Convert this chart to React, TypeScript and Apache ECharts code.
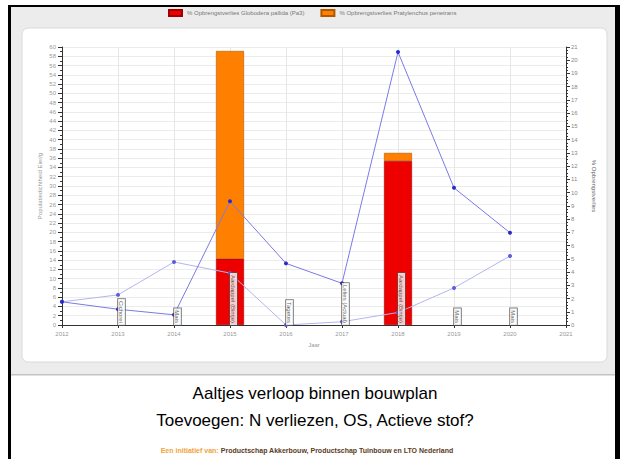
import React, { useEffect, useRef } from "react";
import * as echarts from "echarts";

const axisYears = ["2012", "2013", "2014", "2015", "2016", "2017", "2018", "2019", "2020", "2021"];
const densityDark = [5.0, 3.4, 2.2, 26.7, 13.3, 9.0, 58.9, 29.6, 19.9];
const densityLight = [5.0, 6.5, 13.6, 11.2, 0, 0.7, 2.7, 8.0, 14.9];
const barYears = ["2015", "2018"];
const lossGlobodera = [5.0, 12.4];
const lossPratylenchus = [15.7, 0.6];
const cropYears = ["2013", "2014", "2015", "2016", "2017", "2018", "2019", "2020"];
const crops = [
  "Cichorei",
  "Mais",
  "Aardappel (Bintje)",
  "Tagetes",
  "Lelies (Actual)",
  "Aardappel (Bintje)",
  "Mais",
  "Mais",
];
const legendNames = [
  "% Opbrengstverlies Globodera pallida (Pa3)",
  "% Opbrengstverlies Pratylenchus penetrans",
];
const titleLine1 = "Aaltjes verloop binnen bouwplan";
const titleLine2 = "Toevoegen: N verliezen, OS, Actieve stof?";
const footerLead = "Een initiatief van: ";
const footerRest = "Productschap Akkerbouw, Productschap Tuinbouw en LTO Nederland";

const FONT = "Liberation Sans, Arial, sans-serif";

export default function App() {
  const ref = useRef<HTMLDivElement>(null);
  useEffect(() => {
    if (!ref.current) return;
    const chart = echarts.init(ref.current, undefined, { renderer: "svg" });
    const axisLabel = { fontSize: 6, color: "#999", fontFamily: FONT };
    const byYear = (vals: number[], ys: string[]) =>
      axisYears.map((y) => {
        const i = ys.indexOf(y);
        return i >= 0 ? vals[i] : "-";
      });
    chart.setOption({
      animation: false,
      backgroundColor: "#ffffff",
      textStyle: { fontFamily: FONT },
      graphic: [
        { type: "rect", z: -100, silent: true, shape: { x: 9, y: 6, width: 608, height: 369 }, style: { fill: "#ececec" } },
        { type: "rect", z: -99, silent: true, shape: { x: 9, y: 374, width: 608, height: 1.5 }, style: { fill: "#c4c4c4" } },
        { type: "rect", z: -98, silent: true, shape: { x: 22, y: 28, width: 585, height: 334, r: 6 }, style: { fill: "#ffffff", stroke: "#dadada", lineWidth: 1 } },
        { type: "rect", z: 50, silent: true, shape: { x: 8, y: 5, width: 3, height: 454 }, style: { fill: "#000" } },
        { type: "rect", z: 50, silent: true, shape: { x: 615, y: 5, width: 5, height: 454 }, style: { fill: "#000" } },
        { type: "rect", z: 50, silent: true, shape: { x: 8, y: 5, width: 612, height: 2 }, style: { fill: "#000" } },
        { type: "text", z: 50, x: 315, y: 393, style: { text: titleLine1, fontSize: 17, fontFamily: FONT, fill: "#000", align: "center", verticalAlign: "middle" } },
        { type: "text", z: 50, x: 315, y: 420, style: { text: titleLine2, fontSize: 17, fontFamily: FONT, fill: "#000", align: "center", verticalAlign: "middle" } },
        {
          type: "text", z: 50, x: 307, y: 450,
          style: {
            text: "{a|" + footerLead + "}{b|" + footerRest + "}",
            align: "center", verticalAlign: "middle",
            rich: {
              a: { fontSize: 7, fontWeight: "bold", fontFamily: FONT, fill: "#f2a23a" },
              b: { fontSize: 7, fontWeight: "bold", fontFamily: FONT, fill: "#5a3b1c" },
            },
          },
        },
      ],
      legend: {
        data: legendNames,
        left: 163,
        top: 4,
        itemWidth: 13,
        itemHeight: 6,
        itemGap: 16,
        textStyle: { fontSize: 6, color: "#777", fontFamily: FONT },
        icon: "rect",
        z: 60,
      },
      grid: { left: 62, right: 54, top: 47, bottom: 134 },
      xAxis: {
        type: "category",
        data: axisYears,
        boundaryGap: false,
        name: "Jaar",
        nameLocation: "middle",
        nameGap: 17,
        nameMoveOverlap: false,
        nameTextStyle: { fontSize: 6, color: "#999", fontFamily: FONT },
        axisLine: { show: true, lineStyle: { color: "#333", width: 1 } },
        axisTick: { show: true, length: 3, alignWithLabel: true, lineStyle: { color: "#333" } },
        axisLabel: { ...axisLabel, margin: 6, interval: 0 },
        splitLine: { show: true, interval: 0, lineStyle: { color: "#e6e6e6", width: 1 } },
      },
      yAxis: [
        {
          type: "value",
          min: 0,
          max: 60,
          interval: 2,
          name: "Populatiedichtheid Eier/g",
          nameLocation: "middle",
          nameGap: 19,
          nameMoveOverlap: false,
          nameTextStyle: { fontSize: 6, color: "#999", fontFamily: FONT },
          axisLine: { show: true, lineStyle: { color: "#333", width: 1 } },
          axisTick: { show: true, length: 4, lineStyle: { color: "#333" } },
          minorTick: { show: true, splitNumber: 2, length: 2, lineStyle: { color: "#333" } },
          axisLabel: { ...axisLabel, margin: 6 },
          splitLine: { show: true, lineStyle: { color: "#ececec", width: 1 } },
        },
        {
          type: "value",
          min: 0,
          max: 21,
          interval: 1,
          position: "right",
          name: "% Opbrengstverlies",
          nameLocation: "middle",
          nameRotate: -90,
          nameGap: 25,
          nameMoveOverlap: false,
          nameTextStyle: { fontSize: 6, color: "#666", fontFamily: FONT },
          axisLine: { show: true, lineStyle: { color: "#333", width: 1 } },
          axisTick: { show: true, length: 4, lineStyle: { color: "#333" } },
          minorTick: { show: true, splitNumber: 4, length: 2, lineStyle: { color: "#333" } },
          axisLabel: { ...axisLabel, color: "#888", margin: 5 },
          splitLine: { show: false },
        },
      ],
      series: [
        {
          name: legendNames[0],
          type: "bar",
          stack: "loss",
          yAxisIndex: 1,
          barWidth: 28,
          data: byYear(lossGlobodera, barYears),
          itemStyle: { color: "#ee0000", borderColor: "#a00000", borderWidth: 0.6 },
          z: 2,
        },
        {
          name: legendNames[1],
          type: "bar",
          stack: "loss",
          yAxisIndex: 1,
          barWidth: 28,
          data: byYear(lossPratylenchus, barYears),
          itemStyle: { color: "#ff8000", borderColor: "#b05800", borderWidth: 0.6 },
          z: 2,
        },
        {
          name: "dichtheid-1",
          type: "line",
          yAxisIndex: 0,
          data: densityDark,
          symbol: "circle",
          symbolSize: 4,
          lineStyle: { color: "#7a7ae8", width: 1 },
          itemStyle: { color: "#2a2ac8" },
          z: 4,
        },
        {
          name: "dichtheid-2",
          type: "line",
          yAxisIndex: 0,
          data: densityLight,
          symbol: "circle",
          symbolSize: 4,
          lineStyle: { color: "#b4b4f2", width: 1 },
          itemStyle: { color: "#5c5cdc" },
          z: 3,
        },
        {
          name: "gewas",
          type: "scatter",
          yAxisIndex: 0,
          symbolSize: 0,
          data: cropYears.map((y) => [y, 0]),
          z: 6,
          label: {
            show: true,
            formatter: (p: any) => crops[p.dataIndex],
            position: [0, 0],
            rotate: -90,
            align: "right",
            verticalAlign: "bottom",
            fontSize: 6,
            color: "#333",
            fontFamily: FONT,
            backgroundColor: "#fff",
            borderColor: "#555",
            borderWidth: 0.8,
            padding: [1, 2, 0, 2],
          },
        },
      ],
    });
    return () => chart.dispose();
  }, []);
  return (
    <div
      ref={ref}
      style={{ position: "fixed", left: 0, top: 0, width: 620, height: 459 }}
    />
  );
}
